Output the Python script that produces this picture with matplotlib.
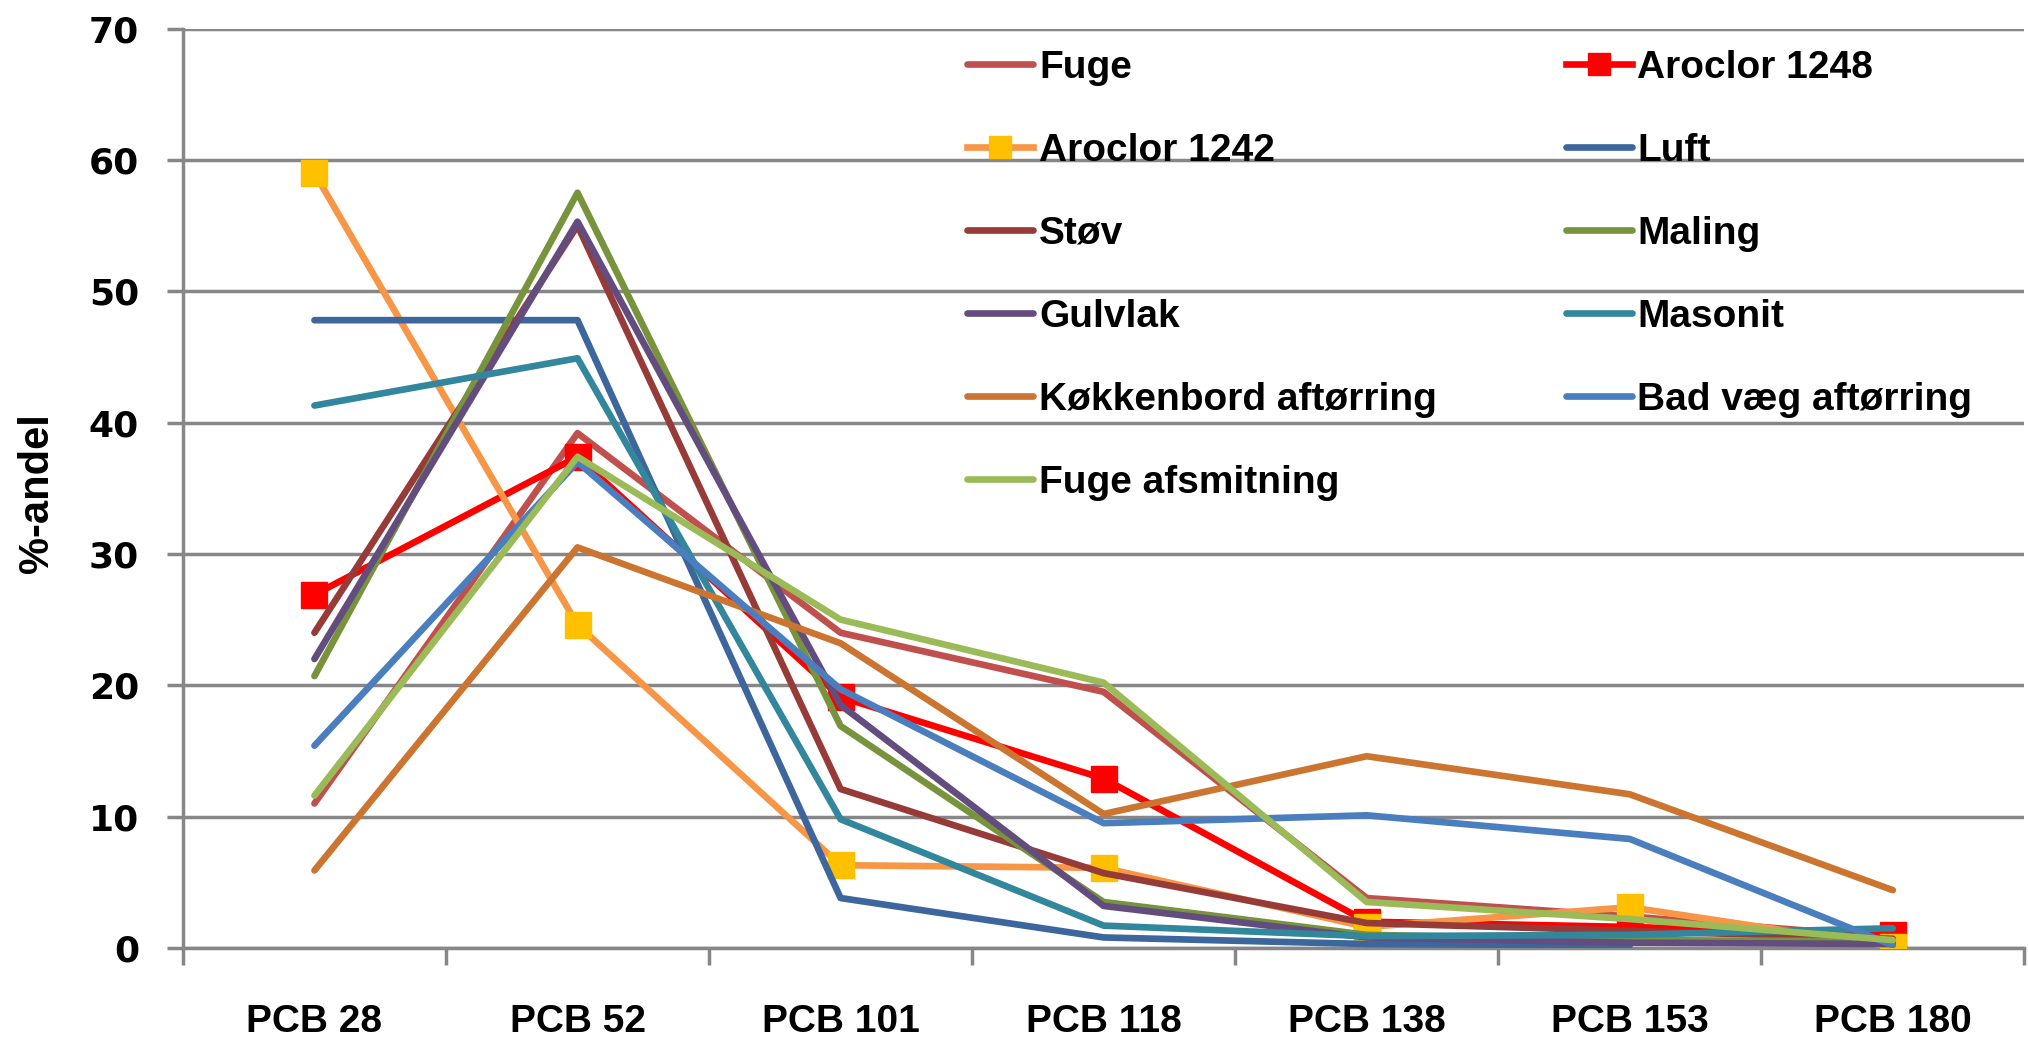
import matplotlib
matplotlib.use('Agg')
import matplotlib.pyplot as plt
import numpy as np

# categories
congeners = ['PCB 28', 'PCB 52', 'PCB 101', 'PCB 118', 'PCB 138', 'PCB 153', 'PCB 180']

# %-andel per source
fuge = [11.0, 39.2, 24.0, 19.5, 3.8, 2.4, 0.8]
aroclor_1248 = [26.9, 37.4, 19.1, 12.9, 2.0, 1.6, 1.0]
aroclor_1242 = [59.0, 24.6, 6.3, 6.1, 1.6, 3.1, 0.1]
luft = [47.8, 47.8, 3.8, 0.8, 0.3, 0.2, np.nan]
stov = [24.0, 55.0, 12.1, 5.7, 1.9, 1.3, 0.7]
maling = [20.7, 57.5, 16.9, 3.5, 1.0, 0.6, 0.5]
gulvlak = [22.0, 55.3, 18.5, 3.2, 0.8, 0.4, 0.3]
masonit = [41.3, 44.9, 9.8, 1.7, 0.9, 1.0, 1.5]
kokkenbord = [5.9, 30.5, 23.2, 10.2, 14.6, 11.7, 4.4]
bad_vaeg = [15.4, 37.0, 19.7, 9.5, 10.1, 8.3, 0.2]
fuge_afsmitning = [11.6, 37.4, 25.0, 20.2, 3.5, 2.2, 0.6]

names = ['Fuge', 'Aroclor 1248', 'Aroclor 1242', 'Luft', 'Støv', 'Maling', 'Gulvlak',
         'Masonit', 'Køkkenbord aftørring', 'Bad væg aftørring', 'Fuge afsmitning']
series = [fuge, aroclor_1248, aroclor_1242, luft, stov, maling, gulvlak,
          masonit, kokkenbord, bad_vaeg, fuge_afsmitning]
colors = ['#C0504D', '#FF0000', '#F79646', '#3C669C', '#973B39', '#77933C', '#634C7E',
          '#32879D', '#CB7530', '#4A7EBE', '#9BBB59']

fig = plt.figure(figsize=(20.28, 10.4), dpi=100)
ax = fig.add_axes([0.0902, 0.0885, 0.908, 0.884])

x = np.arange(len(congeners))
handles = {}
for name, vals, col in zip(names, series, colors):
    if name == 'Aroclor 1248':
        h, = ax.plot(x, vals, color=col, lw=4.8, marker='s', ms=19, mfc='#FF0000', mec='#FF0000', zorder=3)
    elif name == 'Aroclor 1242':
        h, = ax.plot(x, vals, color=col, lw=4.8, marker='s', ms=19, mfc='#FFC000', mec='#FFC000', zorder=3)
    else:
        h, = ax.plot(x, vals, color=col, lw=4.8, solid_capstyle='round', zorder=3)
    handles[name] = h

ax.set_xlim(-0.5, len(congeners) - 0.5)
ax.set_ylim(0, 70)
ax.set_yticks(np.arange(0, 71, 10))
ax.set_xticks(x)
ax.set_xticklabels(congeners)
ax.set_xticks(np.arange(-0.5, len(congeners), 1), minor=True)

grey = '#878787'
ax.yaxis.grid(True, color=grey, lw=2.5, zorder=0)
ax.set_axisbelow(True)
for s in ['top', 'right']:
    ax.spines[s].set_visible(False)
for s in ['left', 'bottom']:
    ax.spines[s].set_color(grey)
    ax.spines[s].set_linewidth(2.5)

ax.tick_params(axis='x', which='major', length=0, pad=40)
ax.tick_params(axis='x', which='minor', length=12, width=2.5, color=grey, direction='out')
ax.tick_params(axis='y', length=11.5, width=2.5, color=grey, direction='out', pad=20)

narrow = ['Liberation Sans Narrow', 'Liberation Sans', 'DejaVu Sans']
for lab in ax.get_yticklabels():
    lab.set_fontfamily('DejaVu Sans')
    lab.set_fontweight('bold')
    lab.set_fontsize(26)
for lab in ax.get_xticklabels():
    lab.set_fontfamily(narrow)
    lab.set_fontweight('bold')
    lab.set_fontsize(28)

ax.set_ylabel('%-andel', fontsize=30, fontweight='bold', family=narrow)
ax.yaxis.label.set_va('center')
ax.yaxis.set_label_coords(-0.079, 0.495)

# legend, row-major order as in the original (2 columns)
col1 = ['Fuge', 'Aroclor 1242', 'Støv', 'Gulvlak', 'Køkkenbord aftørring', 'Fuge afsmitning']
col2 = ['Aroclor 1248', 'Luft', 'Maling', 'Masonit', 'Bad væg aftørring']
order = col1 + col2
leg = ax.legend([handles[n] for n in order], order, ncol=2, frameon=False,
                loc='upper left', bbox_to_anchor=(0.407, 1.015),
                prop={'family': narrow, 'size': 28, 'weight': 'bold'},
                handlelength=1.7, handletextpad=0.15, columnspacing=3.3,
                labelspacing=1.21, markerscale=0.8)

fig.savefig('out.png', dpi=100)
